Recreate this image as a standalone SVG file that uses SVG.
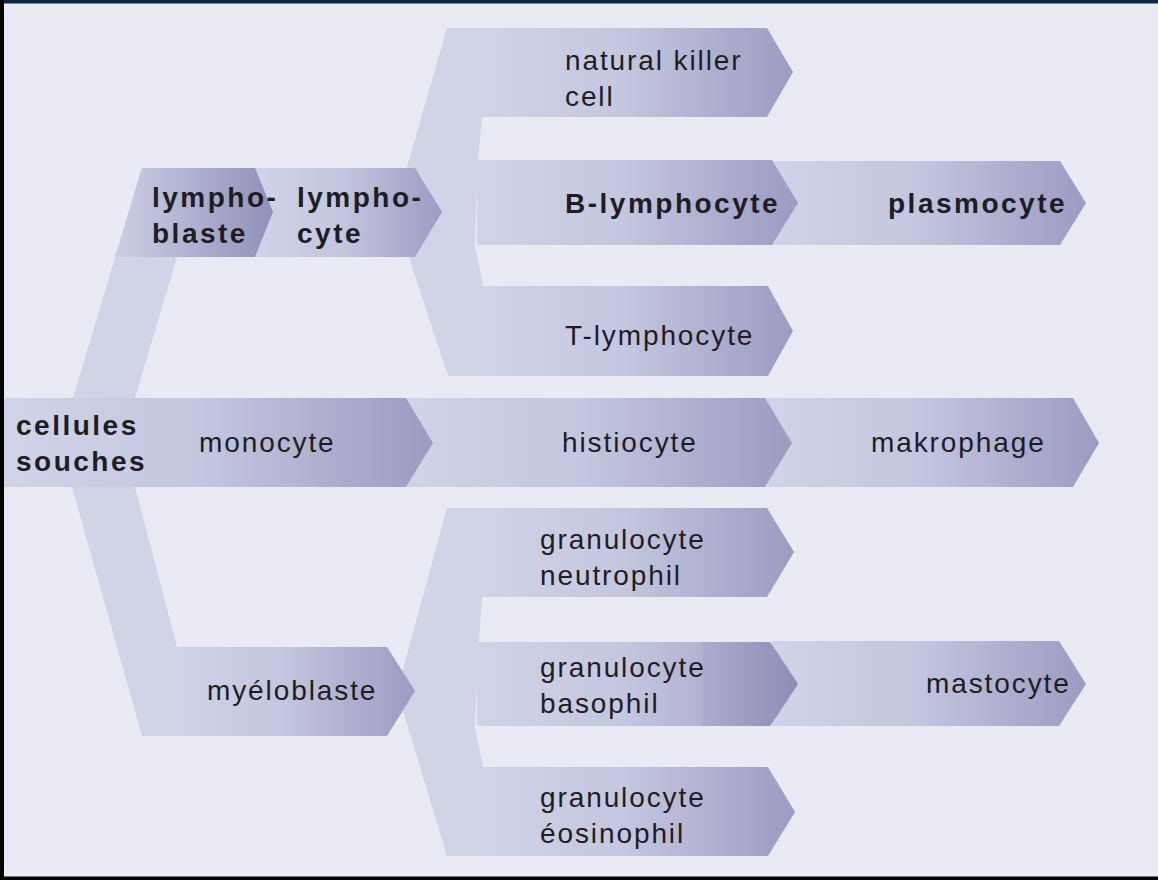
<svg xmlns="http://www.w3.org/2000/svg" width="1158" height="880" viewBox="0 0 1158 880">
<defs>
<linearGradient id="g" x1="0" y1="0" x2="1" y2="0">
<stop offset="0" stop-color="#CFD4E7"/>
<stop offset="0.45" stop-color="#C3C7DF"/>
<stop offset="1" stop-color="#9C9BC1"/>
</linearGradient>
<linearGradient id="gd" x1="0" y1="0" x2="1" y2="0">
<stop offset="0" stop-color="#CBD0E5"/>
<stop offset="1" stop-color="#9090BA"/>
</linearGradient>
<linearGradient id="gb" x1="0" y1="0" x2="1" y2="0">
<stop offset="0" stop-color="#AAABCC"/>
<stop offset="1" stop-color="#8C8CB7"/>
</linearGradient>
<style>
.a{fill:url(#g)}
.ad{fill:url(#gd)}
.ab{fill:url(#gb)}
.c{fill:#CFD4E7}
text{font-family:"Liberation Sans",Arial,sans-serif;font-size:28px;fill:#1E1E22}
.r{letter-spacing:1.9px}
.b{font-weight:bold;letter-spacing:2.5px}
</style>
</defs>
<rect x="0" y="0" width="1158" height="880" fill="#E9EAF4"/>
<g id="connectors">
<polygon class="c" points="142,168 200,168 200,257 177,257 135,398 135,487 177,647 200,647 200,736 142,736 72,487 60,443 73,398"/>
<polygon class="c" points="447,28 484,28 482,117 478,160 475,245 483,286 486,376 448,376 394,212"/>
<polygon class="c" points="447,508 484,508 482,598 479,640 475,727 483,767 486,856 447,856 397,691"/>
</g>
<g id="lymphocyte">
<polygon class="a" points="255,168 415,168 442,212 415,257 255,257"/>
<text class="b" x="297" y="207">lympho-</text>
<text class="b" x="297" y="243">cyte</text>
</g>
<g id="lymphoblaste">
<polygon class="ad" points="142,168 255,168 273,212 255,257 115,257"/>
<text class="b" x="152" y="207">lympho-</text>
<text class="b" x="152" y="243">blaste</text>
</g>
<g id="nk">
<polygon class="a" points="481,28 767,28 793,72 767,117 481,117"/>
<text class="r" x="565" y="70">natural killer</text>
<text class="r" x="565" y="106">cell</text>
</g>
<g id="plasmocyte">
<polygon class="a" points="772,161 1060,161 1086,203 1060,245 772,245"/>
<text class="b" x="888" y="213">plasmocyte</text>
</g>
<g id="b-lymphocyte">
<polygon class="a" points="477,160 772,160 798,203 772,245 477,245"/>
<text class="b" x="565" y="213">B-lymphocyte</text>
</g>
<g id="t-lymphocyte">
<polygon class="a" points="482,286 768,286 793,331 768,376 482,376"/>
<text class="r" x="565" y="345">T-lymphocyte</text>
</g>
<g id="makrophage">
<polygon class="a" points="765,398 1073,398 1099,443 1073,487 765,487"/>
<text class="r" x="871" y="452">makrophage</text>
</g>
<g id="histiocyte">
<polygon class="a" points="406,398 765,398 792,443 765,487 406,487"/>
<text class="r" x="562" y="452">histiocyte</text>
</g>
<g id="monocyte">
<polygon class="a" points="4,398 406,398 433,443 406,487 4,487"/>
<text class="r" x="199" y="452">monocyte</text>
</g>
<g id="cellules-souches">
<text class="b" x="16" y="435">cellules</text>
<text class="b" x="16" y="471">souches</text>
</g>
<g id="myeloblaste">
<polygon class="a" points="170,647 387,647 415,691 387,736 170,736"/>
<text class="r" x="207" y="700">myéloblaste</text>
</g>
<g id="neutrophil">
<polygon class="a" points="481,508 767,508 794,552 767,597 481,597"/>
<text class="r" x="540" y="549">granulocyte</text>
<text class="r" x="540" y="585">neutrophil</text>
</g>
<g id="mastocyte">
<polygon class="a" points="772,641 1059,641 1086,684 1059,726 772,726"/>
<text class="r" x="926" y="693">mastocyte</text>
</g>
<g id="basophil">
<polygon class="a" points="477,642 770,642 798,684 770,726 477,726"/>
<polygon class="ab" points="703,642 770,642 798,684 770,726 703,726"/>
<text class="r" x="540" y="677">granulocyte</text>
<text class="r" x="540" y="713">basophil</text>
</g>
<g id="eosinophil">
<polygon class="a" points="482,767 768,767 795,812 768,856 482,856"/>
<text class="r" x="540" y="807">granulocyte</text>
<text class="r" x="540" y="843">éosinophil</text>
</g>
<g id="frame">
<rect x="0" y="0" width="1158" height="3.5" fill="#0F2640"/>
<rect x="0" y="0" width="4" height="880" fill="#000"/>
<rect x="0" y="876.5" width="1158" height="3.5" fill="#000"/>
</g>
</svg>
